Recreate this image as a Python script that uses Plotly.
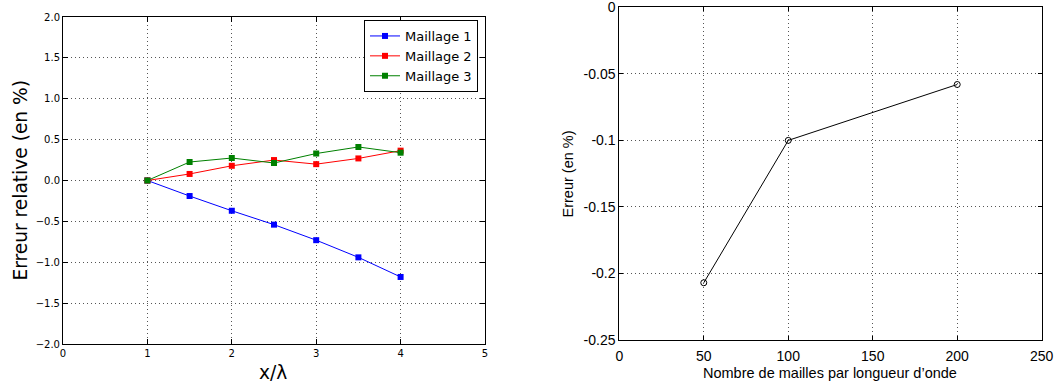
import plotly.graph_objects as go

# Left chart data
x_lambda = [1, 1.5, 2, 2.5, 3, 3.5, 4]
maillage1 = [0.0, -0.19, -0.37, -0.54, -0.73, -0.94, -1.18]
maillage2 = [0.0, 0.08, 0.18, 0.25, 0.20, 0.27, 0.365]
maillage3 = [0.0, 0.226, 0.275, 0.214, 0.33, 0.41, 0.34]
series_names = ["Maillage 1", "Maillage 2", "Maillage 3"]
series_colors = ["#0000ff", "#ff0000", "#008000"]

left_yticks = [-2.0, -1.5, -1.0, -0.5, 0.0, 0.5, 1.0, 1.5, 2.0]
left_xticks = [0, 1, 2, 3, 4, 5]

# Right chart data
mailles = [50, 100, 200]
erreur = [-0.207, -0.1, -0.058]
right_yticks = [0, -0.05, -0.1, -0.15, -0.2, -0.25]
right_yticklabels = ["0", "-0.05", "-0.1", "-0.15", "-0.2", "-0.25"]
right_xticks = [0, 50, 100, 150, 200, 250]

W, H = 1059, 385

fig = go.Figure()
for name, ys, col in zip(series_names, [maillage1, maillage2, maillage3], series_colors):
    fig.add_trace(go.Scatter(
        x=x_lambda, y=ys, name=name, mode="lines+markers",
        line=dict(color=col, width=1),
        marker=dict(symbol="square", size=6, color=col),
        xaxis="x", yaxis="y",
    ))

fig.add_trace(go.Scatter(
    x=mailles, y=erreur, mode="lines+markers", showlegend=False,
    line=dict(color="black", width=1),
    marker=dict(symbol="circle-open", size=6, color="black", line=dict(width=1)),
    xaxis="x2", yaxis="y2",
))

left_font = dict(family="DejaVu Sans", size=10, color="black")
right_font = dict(family="Liberation Sans", size=14, color="black")

common = dict(showline=True, linecolor="black", linewidth=1, mirror="ticks",
              ticks="inside", tickcolor="black", showgrid=True, gridcolor="#555555",
              griddash="1px,3px", gridwidth=1, zeroline=False, automargin=False,
              ticklabeloverflow="allow")

fig.update_layout(
    template="none",
    width=W, height=H,
    margin=dict(l=0, r=0, t=0, b=0, autoexpand=False),
    paper_bgcolor="white", plot_bgcolor="white",
    xaxis=dict(domain=[63 / W, 485 / W], range=[0, 5], tickvals=left_xticks,
               ticklen=5, tickfont=left_font, anchor="y", **common),
    yaxis=dict(domain=[(H - 344) / H, (H - 17) / H], range=[-2, 2], tickvals=left_yticks,
               tickformat=".1f", ticklen=5, tickfont=left_font, anchor="x", **common),
    xaxis2=dict(domain=[619.3 / W, 1041.7 / W], range=[0, 250], tickvals=right_xticks,
                ticklen=4, tickfont=right_font, anchor="y2", ticklabelstandoff=3, **common),
    yaxis2=dict(domain=[(H - 340) / H, (H - 7.3) / H], range=[-0.25, 0], tickvals=right_yticks,
                ticktext=right_yticklabels, ticklen=4, tickfont=right_font, anchor="x2", **common),
    legend=dict(x=478 / W, y=(H - 20) / H, xanchor="right", yanchor="top",
                bordercolor="black", borderwidth=1, bgcolor="white",
                font=dict(family="DejaVu Sans", size=13, color="black"),
                itemwidth=30, tracegroupgap=0),
    showlegend=True,
    annotations=[
        dict(text="Erreur relative (en %)", x=19.5 / W, y=(H - 181) / H, xref="paper", yref="paper",
             xanchor="center", yanchor="middle",
             textangle=-90, showarrow=False, font=dict(family="DejaVu Sans", size=18.6, color="black")),
        dict(text="x/λ", x=273 / W, y=(H - 372) / H, xref="paper", yref="paper",
             xanchor="center", yanchor="middle",
             showarrow=False, font=dict(family="DejaVu Sans", size=18.6, color="black")),
        dict(text="Erreur (en %)", x=567.5 / W, y=(H - 174) / H, xref="paper", yref="paper",
             xanchor="center", yanchor="middle",
             textangle=-90, showarrow=False, font=dict(family="Liberation Sans", size=14.5, color="black")),
        dict(text="Nombre de mailles par longueur d’onde", x=830 / W, y=(H - 373) / H,
             xref="paper", yref="paper", xanchor="center", yanchor="middle", showarrow=False,
             font=dict(family="Liberation Sans", size=14.5, color="black")),
    ],
)

post = "document.body.style.margin='0';document.body.style.overflow='hidden';"

fig.write_html("out.html", config={"displayModeBar": False}, post_script=post)
